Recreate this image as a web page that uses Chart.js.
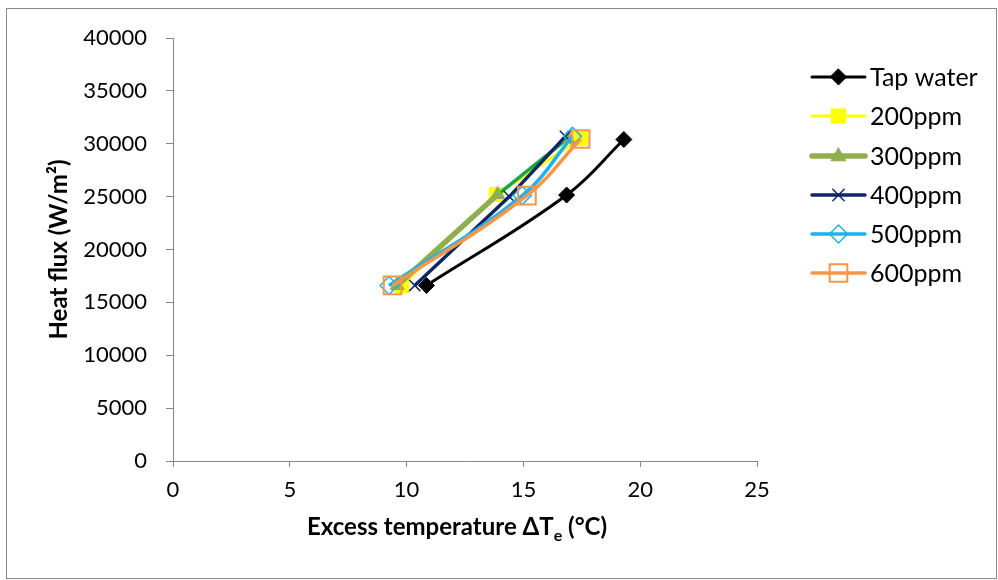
<!DOCTYPE html>
<html lang="en">
<head>
<meta charset="UTF-8">
<title>Heat flux vs excess temperature</title>
<script src="https://cdn.jsdelivr.net/npm/chart.js"></script>
<style>
  html, body { margin: 0; padding: 0; background: #fff; }
  #wrap { width: 998px; height: 580px; position: relative; }
</style>
</head>
<body>
<div id="wrap"><canvas id="boilingChart" width="998" height="580"></canvas></div>
<script>
// series names
const seriesNames = ['Tap water', '200ppm', '300ppm', '400ppm', '500ppm', '600ppm'];
// excess temperature (deg C), one array per series
const tapWaterX = [10.85, 16.85, 19.3];
const ppm200X = [9.8, 13.85, 17.45];
const ppm300X = [9.6, 13.9, 16.9];
const ppm400X = [10.35, 14.4, 16.8];
const ppm500X = [9.25, 14.95, 17.1];
const ppm600X = [9.4, 15.15, 17.45];
// heat flux (W/m2)
const tapWaterY = [16600, 25150, 30400];
const ppm200Y = [16600, 25200, 30500];
const ppm300Y = [16600, 25200, 30500];
const ppm400Y = [16600, 25000, 30700];
const ppm500Y = [16600, 25100, 30700];
const ppm600Y = [16600, 25100, 30450];
// axis ticks
const xTicks = [0, 5, 10, 15, 20, 25];
const yTicks = [0, 5000, 10000, 15000, 20000, 25000, 30000, 35000, 40000];

const pts = (xs, ys) => xs.map((x, i) => ({ x: x, y: ys[i] }));

// look of each series (line + marker)
const looks = [
  { color: '#000000', width: 3, style: 'rectRot', radius: 8, fill: '#000000', mw: 1, tension: 0.4 },
  { color: '#FFFF00', width: 3, style: 'rect', radius: 10, fill: '#FFFF00', mw: 1, tension: 0 },
  { color: '#8FAE4E', width: 5.5, style: 'triangle', radius: 8, fill: '#8FAE4E', mw: 1, tension: 0 },
  { color: '#0E2566', width: 3.5, style: 'crossRot', radius: 8, fill: 'rgba(0,0,0,0)', mw: 1.5, tension: 0 },
  { color: '#1BB2EE', width: 3.5, style: 'rectRot', radius: 9, fill: 'rgba(0,0,0,0)', mw: 1.5, tension: 0.4 },
  { color: '#F79646', width: 3.5, style: 'rect', radius: 12.5, fill: 'rgba(0,0,0,0)', mw: 2, tension: 0.4 }
];

const allData = [
  pts(tapWaterX, tapWaterY), pts(ppm200X, ppm200Y), pts(ppm300X, ppm300Y),
  pts(ppm400X, ppm400Y), pts(ppm500X, ppm500Y), pts(ppm600X, ppm600Y)
];

const datasets = seriesNames.map((name, i) => {
  const lk = looks[i];
  const ds = {
    label: name,
    data: allData[i],
    showLine: true,
    borderColor: lk.color,
    borderWidth: lk.width,
    tension: lk.tension,
    pointStyle: lk.style,
    pointRadius: lk.radius,
    pointHoverRadius: lk.radius,
    pointBackgroundColor: lk.fill,
    pointBorderColor: lk.color,
    pointBorderWidth: lk.mw,
    order: seriesNames.length - i
  };
  if (i === 2) {
    // upper segment of 300ppm is drawn in bright green in the original
    ds.segment = {
      borderColor: c => c.p0DataIndex === 1 ? '#10A848' : lk.color,
      borderWidth: c => c.p0DataIndex === 1 ? 3.5 : lk.width
    };
  }
  return ds;
});

const FONT = 'Lato, "Open Sans", sans-serif';

function drawMarker(ctx, lk, x, y) {
  const r = lk.radius;
  ctx.save();
  ctx.lineWidth = lk.mw;
  ctx.strokeStyle = lk.color;
  ctx.fillStyle = lk.fill;
  ctx.beginPath();
  if (lk.style === 'rect') {
    const s = Math.SQRT1_2 * r;
    ctx.rect(x - s, y - s, 2 * s, 2 * s);
    ctx.fill(); ctx.stroke();
  } else if (lk.style === 'rectRot') {
    ctx.moveTo(x, y - r); ctx.lineTo(x + r, y); ctx.lineTo(x, y + r); ctx.lineTo(x - r, y); ctx.closePath();
    ctx.fill(); ctx.stroke();
  } else if (lk.style === 'triangle') {
    ctx.moveTo(x, y - r); ctx.lineTo(x + r * 0.9, y + r * 0.6); ctx.lineTo(x - r * 0.9, y + r * 0.6); ctx.closePath();
    ctx.fill(); ctx.stroke();
  } else if (lk.style === 'crossRot') {
    const s = r * Math.SQRT1_2;
    ctx.moveTo(x - s, y - s); ctx.lineTo(x + s, y + s);
    ctx.moveTo(x + s, y - s); ctx.lineTo(x - s, y + s);
    ctx.stroke();
  }
  ctx.restore();
}

const extras = {
  id: 'extras',
  afterDraw(chart) {
    const ctx = chart.ctx;
    const area = chart.chartArea;
    ctx.save();
    // outer frame
    ctx.strokeStyle = '#8a8a8a';
    ctx.lineWidth = 1;
    ctx.strokeRect(6.5, 8.5, 990, 570);

    // y axis title
    ctx.fillStyle = '#000';
    ctx.font = 'bold 24px ' + FONT;
    ctx.textAlign = 'center';
    ctx.textBaseline = 'middle';
    ctx.save();
    ctx.translate(59, (area.top + area.bottom) / 2);
    ctx.rotate(-Math.PI / 2);
    ctx.fillText('Heat flux (W/m\u00B2)', 0, 0);
    ctx.restore();

    // x axis title with subscript e
    const partA = 'Excess temperature \u0394T';
    const partB = 'e';
    const partC = ' (\u00B0C)';
    const bigFont = 'bold 24px ' + FONT;
    const smallFont = 'bold 16px ' + FONT;
    ctx.font = bigFont;
    const wA = ctx.measureText(partA).width;
    const wC = ctx.measureText(partC).width;
    ctx.font = smallFont;
    const wB = ctx.measureText(partB).width;
    const total = wA + wB + wC;
    let tx = (area.left + area.right) / 2 - total / 2 - 8;
    const ty = 527;
    ctx.textAlign = 'left';
    ctx.textBaseline = 'alphabetic';
    ctx.font = bigFont;
    ctx.fillText(partA, tx, ty + 8);
    tx += wA;
    ctx.font = smallFont;
    ctx.fillText(partB, tx, ty + 14);
    tx += wB;
    ctx.font = bigFont;
    ctx.fillText(partC, tx, ty + 8);

    // legend
    const rowY = [77, 116, 156, 195, 234, 273];
    ctx.font = '25px ' + FONT;
    ctx.textBaseline = 'middle';
    seriesNames.forEach((name, i) => {
      const lk = looks[i];
      const y = rowY[i];
      ctx.strokeStyle = lk.color;
      ctx.lineWidth = lk.width;
      ctx.lineCap = 'round';
      ctx.beginPath();
      ctx.moveTo(812, y); ctx.lineTo(865, y);
      ctx.stroke();
      drawMarker(ctx, lk, 838.5, y);
      ctx.fillStyle = '#000';
      ctx.fillText(name, 870, y + 1);
    });
    ctx.restore();
  }
};

const axisGrey = '#868686';

new Chart(document.getElementById('boilingChart'), {
  type: 'scatter',
  data: { datasets: datasets },
  options: {
    responsive: false,
    animation: false,
    events: [],
    layout: { padding: { top: 38, right: 241, bottom: 0, left: 0 } },
    plugins: { legend: { display: false }, tooltip: { enabled: false } },
    scales: {
      x: {
        type: 'linear',
        min: 0, max: 25,
        afterBuildTicks: s => { s.ticks = xTicks.map(v => ({ value: v })); },
        afterFit: s => { s.height = 119; },
        ticks: { font: { family: FONT, size: 22 }, color: '#000', padding: 10 },
        grid: { display: true, drawOnChartArea: false, drawTicks: true, tickLength: 6, color: axisGrey },
        border: { color: axisGrey, width: 1 }
      },
      y: {
        type: 'linear',
        min: 0, max: 40000,
        afterBuildTicks: s => { s.ticks = yTicks.map(v => ({ value: v })); },
        afterFit: s => { s.width = 173; },
        ticks: { font: { family: FONT, size: 22 }, color: '#000', padding: 19, callback: v => String(v) },
        grid: { display: true, drawOnChartArea: false, drawTicks: true, tickLength: 7, color: axisGrey },
        border: { color: axisGrey, width: 1 }
      }
    }
  },
  plugins: [extras]
});
</script>
</body>
</html>
